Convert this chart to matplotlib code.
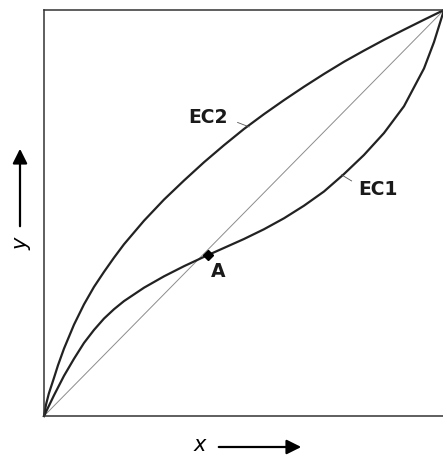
import matplotlib.pyplot as plt

ec1_x = [0, 0.025, 0.05, 0.075, 0.10, 0.125, 0.15, 0.175, 0.20, 0.25, 0.30, 0.35, 0.40, 0.45, 0.50, 0.55,
         0.60, 0.65, 0.70, 0.75, 0.80, 0.85, 0.90, 0.95, 0.975, 1.0]
ec1_y = [0, 0.051, 0.099, 0.141, 0.180, 0.212, 0.240, 0.263, 0.283, 0.316, 0.344, 0.369, 0.392, 0.414, 0.436, 0.460,
         0.487, 0.518, 0.553, 0.596, 0.643, 0.697, 0.763, 0.856, 0.921, 1.0]

ec2_x = [0, 0.005, 0.012, 0.025, 0.035, 0.05, 0.075, 0.10, 0.125, 0.15, 0.175, 0.20, 0.25, 0.30, 0.35, 0.40,
         0.45, 0.50, 0.55, 0.60, 0.65, 0.70, 0.75, 0.80, 0.85, 0.90, 0.95, 1.0]
ec2_y = [0, 0.028, 0.055, 0.094, 0.125, 0.166, 0.225, 0.275, 0.318, 0.355, 0.390, 0.423, 0.481, 0.533, 0.580, 0.625,
         0.667, 0.707, 0.7435, 0.778, 0.811, 0.8425, 0.8725, 0.900, 0.9265, 0.9515, 0.976, 1.0]

diag = [0, 1]
punkt_a = (0.41, 0.396)

fig = plt.figure(figsize=(4.43, 4.55), dpi=100)
ax = fig.add_axes([44 / 443, 39 / 455, 400 / 443, 406 / 455])
ax.set_xlim(0, 1)
ax.set_ylim(0, 1)
ax.set_xticks([])
ax.set_yticks([])
for s in ["left", "bottom", "top"]:
    ax.spines[s].set_color("#333333")
    ax.spines[s].set_linewidth(1.1)
ax.spines["right"].set_visible(False)

ax.plot(diag, diag, color="#8c8c8c", lw=0.7, clip_on=False)
ax.plot(ec1_x, ec1_y, color="#222222", lw=1.6, solid_joinstyle="round", clip_on=False)
ax.plot(ec2_x, ec2_y, color="#222222", lw=1.6, solid_joinstyle="round", clip_on=False)
ax.plot(*punkt_a, marker="D", ms=5, color="black")

schrift = dict(fontsize=13.5, fontweight="bold", color="#1a1a1a")
ax.text(0.41, 0.736, "EC2", ha="center", va="center", **schrift)
ax.plot([0.484, 0.513], [0.723, 0.712], color="#555555", lw=0.6)
ax.text(0.835, 0.557, "EC1", ha="center", va="center", **schrift)
ax.plot([0.744, 0.769], [0.594, 0.579], color="#555555", lw=0.6)
ax.text(0.435, 0.355, "A", ha="center", va="center", **schrift)

# Achsenbeschriftung mit Pfeilen
fig.text(200 / 443, 4 / 455, "x", ha="center", va="baseline", fontsize=15, style="italic")
ax.annotate("", xy=(304, 8), xytext=(216, 8), xycoords="figure pixels",
            arrowprops=dict(arrowstyle="-|>", mutation_scale=22, lw=1.6, color="black"))
fig.text(22 / 443, 211 / 455, "y", ha="center", va="center", fontsize=15, style="italic", rotation=90)
ax.annotate("", xy=(20, 309), xytext=(20, 226), xycoords="figure pixels",
            arrowprops=dict(arrowstyle="-|>", mutation_scale=22, lw=1.6, color="black"))

fig.savefig("out.png", dpi=100)
plt.close(fig)
